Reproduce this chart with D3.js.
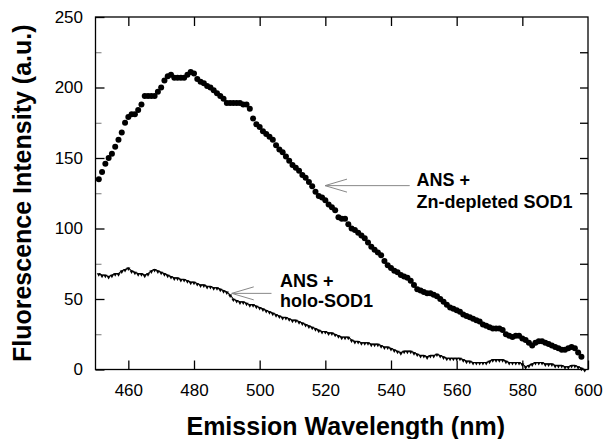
<!DOCTYPE html>
<html>
<head>
<meta charset="utf-8">
<script src="https://cdn.jsdelivr.net/npm/d3@7"></script>
<style>
  body { margin: 0; background: #fff; }
  svg { display: block; font-family: "Liberation Sans", Arial, Helvetica, sans-serif; }
</style>
</head>
<body>
<script>
// ===== data =====
const firstNm = 451;

// ANS + Zn-depleted SOD1, 451..598 nm, 1 nm step
const znDepleted = [
  135, 140, 146, 150, 153, 158, 163, 168, 175, 179,
  181, 181, 184, 188, 194, 194, 194, 194, 197, 200,
  205, 208, 209, 207, 207, 207, 207, 209, 211, 210,
  206, 204, 203, 201, 200, 198, 196, 194, 192, 189,
  189, 189, 189, 189, 188, 188, 185, 178, 174, 172,
  169, 167, 165, 163, 159, 156, 154, 151, 148, 145,
  143, 141, 138, 136, 133, 130, 126, 123, 122, 120,
  117, 115, 113, 108, 107, 107, 103, 100, 99, 97,
  95, 93, 90, 87, 85, 83, 81, 77, 74, 72,
  70, 69, 67, 66, 65, 63, 60, 57, 56, 55,
  54, 54, 53, 52, 50, 48, 46, 44, 43, 42,
  41, 39, 38, 37, 36, 35, 34, 32, 31, 30,
  29, 29, 29, 28, 25, 24, 23, 24, 24, 22,
  21, 19, 17, 19, 20, 20, 19, 18, 17, 16,
  15, 14, 14, 15, 16, 15, 12, 9
];

// ANS + holo-SOD1, 451..599 nm, 1 nm step
const holoSod1 = [
  68, 67, 67, 66, 67, 68, 68, 70, 71, 72,
  70, 69, 68, 68, 67, 68, 70, 71, 70, 69,
  68, 67, 66, 65, 65, 64, 64, 63, 62, 62,
  61, 60, 60, 59, 59, 58, 58, 57, 56, 55,
  53, 50, 49, 48, 48, 47, 46, 46, 45, 44,
  43, 42, 41, 40, 39, 38, 37, 37, 36, 35,
  35, 34, 33, 32, 31, 30, 29, 28, 27, 27,
  26, 26, 25, 24, 23, 23, 23, 21, 20, 20,
  19, 19, 19, 18, 18, 18, 17, 16, 16, 15,
  14, 13, 12, 13, 13, 13, 12, 11, 10, 10,
  9, 10, 10, 11, 10, 9, 8, 8, 8, 8,
  8, 7, 6, 6, 5, 5, 5, 5, 5, 6,
  7, 7, 7, 7, 6, 5, 5, 5, 5, 4,
  2, 3, 4, 5, 5, 5, 4, 4, 4, 3,
  3, 3, 2, 2, 3, 3, 2, 1, 0
];

const xTicks = [460, 480, 500, 520, 540, 560, 580, 600];
const yTicks = [0, 50, 100, 150, 200, 250];
const yMinorTicks = [25, 75, 125, 175, 225];

// annotations: text lines, arrow tip and tail in data units
const labels = [
  { lines: ['ANS +', 'Zn-depleted SOD1'], tip: [519.9, 130.4], tail: [545.7, 130.4], at: [547.8, 130.4], dy0: 0, gap: 22 },
  { lines: ['ANS +', 'holo-SOD1'], tip: [491.5, 54], tail: [503.6, 54], at: [506.2, 54], dy0: -6.5, gap: 20 }
];

// ===== layout =====
const width = 614, height = 439;
const margin = { top: 17, right: 26, bottom: 69.5, left: 95.5 };

const svg = d3.select('body').append('svg')
  .attr('width', width)
  .attr('height', height);

const x = d3.scaleLinear().domain([450, 600]).range([margin.left, width - margin.right]);
const y = d3.scaleLinear().domain([0, 250]).range([height - margin.bottom, margin.top]);

const zn = znDepleted.map((v, i) => ({ nm: firstNm + i, v: v }));
const holo = holoSod1.map((v, i) => ({ nm: firstNm + i, v: v }));

// ===== axes =====
const axisBottomG = svg.append('g')
  .attr('transform', `translate(0,${y(0)})`)
  .call(d3.axisBottom(x).tickValues(xTicks).tickSizeInner(-9).tickSizeOuter(0).tickPadding(14));

const axisTopG = svg.append('g')
  .attr('transform', `translate(0,${y(250)})`)
  .call(d3.axisTop(x).tickValues(xTicks.filter(t => t < 600)).tickSizeInner(-9).tickSizeOuter(0).tickFormat(''));

const axisLeftG = svg.append('g')
  .attr('transform', `translate(${x(450)},0)`)
  .call(d3.axisLeft(y).tickValues(yTicks).tickSizeInner(-9).tickSizeOuter(0).tickPadding(12.5));

const axisLeftMinorG = svg.append('g')
  .attr('transform', `translate(${x(450)},0)`)
  .call(d3.axisLeft(y).tickValues(yMinorTicks).tickSizeInner(-6).tickSizeOuter(0).tickFormat(''));

const axisRightG = svg.append('g')
  .attr('transform', `translate(${x(600)},0)`)
  .call(d3.axisRight(y).tickValues(yTicks.concat(yMinorTicks).filter(t => t > 0 && t < 250))
    .tickSizeInner(-8).tickSizeOuter(0).tickFormat(''));

svg.selectAll('.domain').remove();
svg.selectAll('.tick line').attr('stroke', '#000').attr('stroke-width', 1.3);
axisLeftMinorG.selectAll('.tick line').attr('stroke', '#777').attr('stroke-width', 1);
svg.selectAll('.tick text')
  .attr('fill', '#000')
  .attr('font-size', '17px')
  .attr('font-family', '"Liberation Sans", Arial, sans-serif');

// frame
svg.append('rect')
  .attr('x', x(450))
  .attr('y', y(250))
  .attr('width', x(600) - x(450))
  .attr('height', y(0) - y(250))
  .attr('fill', 'none')
  .attr('stroke', '#000')
  .attr('stroke-width', 1.3);

// ===== series =====
// holo-SOD1: thin jagged trace with small down-pointing markers
svg.append('path')
  .datum(holo)
  .attr('fill', 'none')
  .attr('stroke', '#000')
  .attr('stroke-width', 1.1)
  .attr('d', d3.line().x(d => x(d.nm)).y(d => y(d.v)));

const tri = d3.symbol().type(d3.symbolTriangle).size(7);
svg.append('g')
  .selectAll('path')
  .data(holo)
  .enter()
  .append('path')
  .attr('d', tri)
  .attr('transform', d => `translate(${x(d.nm)},${y(d.v) + 0.8}) rotate(180)`)
  .attr('fill', '#000');

// Zn-depleted SOD1: filled dots
svg.append('g')
  .selectAll('circle')
  .data(zn)
  .enter()
  .append('circle')
  .attr('cx', d => x(d.nm))
  .attr('cy', d => y(d.v))
  .attr('r', 3)
  .attr('fill', '#000');

// ===== annotations =====
labels.forEach(function(a) {
  const tx = x(a.tip[0]), ty = y(a.tip[1]);
  const g = svg.append('g').attr('stroke', '#888').attr('stroke-width', 1).attr('fill', 'none');
  g.append('line')
    .attr('x1', tx).attr('y1', ty)
    .attr('x2', x(a.tail[0])).attr('y2', y(a.tail[1]));
  g.append('polyline')
    .attr('points', `${tx + 22},${ty - 6.5} ${tx},${ty} ${tx + 22},${ty + 6.5}`);

  const t = svg.append('text')
    .attr('x', x(a.at[0]))
    .attr('y', y(a.at[1]))
    .attr('font-size', '18px')
    .attr('font-weight', 'bold')
    .attr('fill', '#000');
  t.selectAll('tspan')
    .data(a.lines)
    .enter()
    .append('tspan')
    .attr('x', x(a.at[0]))
    .attr('dy', (d, i) => i === 0 ? a.dy0 : a.gap)
    .text(d => d);
});

// ===== axis titles =====
svg.append('text')
  .attr('x', (x(450) + x(600)) / 2 + 4)
  .attr('y', 435)
  .attr('text-anchor', 'middle')
  .attr('font-size', '25px')
  .attr('font-weight', 'bold')
  .text('Emission Wavelength (nm)');

svg.append('text')
  .attr('transform', `translate(31,${(y(0) + y(250)) / 2}) rotate(-90)`)
  .attr('text-anchor', 'middle')
  .attr('font-size', '25px')
  .attr('font-weight', 'bold')
  .text('Fluorescence Intensity (a.u.)');
</script>
</body>
</html>
